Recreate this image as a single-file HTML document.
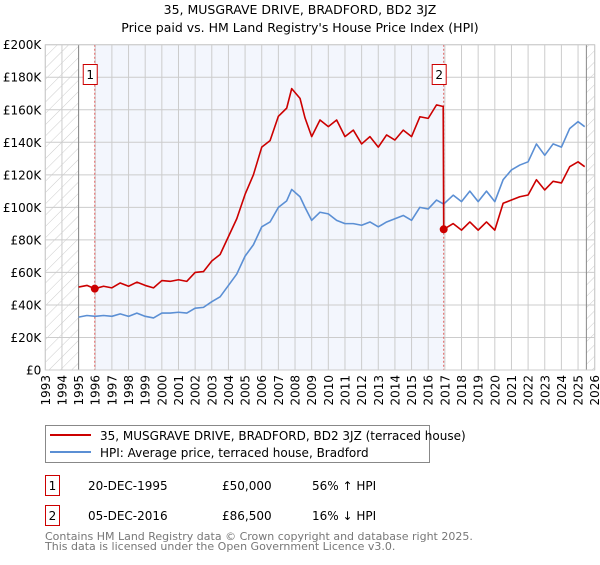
<!DOCTYPE html>
<html><head><meta charset="utf-8"><style>
body{margin:0;background:#fff;}
svg text{font-family:"DejaVu Sans","Liberation Sans",sans-serif;}
</style></head><body>
<svg id="chart" width="600" height="560" viewBox="0 0 600 560" xmlns="http://www.w3.org/2000/svg">
<defs>
<pattern id="hatch" patternUnits="userSpaceOnUse" width="8" height="8" patternTransform="rotate(45)">
<line x1="0" y1="0" x2="0" y2="8" stroke="#ccc" stroke-width="1"/>
</pattern>
</defs>
<text x="300" y="14" text-anchor="middle" font-size="12.5">35, MUSGRAVE DRIVE, BRADFORD, BD2 3JZ</text>
<text x="300" y="32" text-anchor="middle" font-size="12.5">Price paid vs. HM Land Registry's House Price Index (HPI)</text>
<g id="plot"></g>
<g>
<rect x="45.5" y="425.5" width="384" height="37" fill="#fff" stroke="#888"/>
<line x1="50" y1="435" x2="91" y2="435" stroke="#cc0000" stroke-width="2"/>
<text x="100" y="440" font-size="12">35, MUSGRAVE DRIVE, BRADFORD, BD2 3JZ (terraced house)</text>
<line x1="50" y1="452" x2="91" y2="452" stroke="#5b8fd4" stroke-width="2"/>
<text x="100" y="457" font-size="12">HPI: Average price, terraced house, Bradford</text>
</g>
<g font-size="12">
<rect x="45.5" y="475.5" width="14" height="20" fill="#fff" stroke="#cc0000"/>
<text x="52.5" y="490" text-anchor="middle">1</text>
<text x="88" y="490">20-DEC-1995</text>
<text x="222" y="490">£50,000</text>
<text x="312" y="490">56% ↑ HPI</text>
<rect x="45.5" y="505.5" width="14" height="20" fill="#fff" stroke="#cc0000"/>
<text x="52.5" y="520" text-anchor="middle">2</text>
<text x="88" y="520">05-DEC-2016</text>
<text x="222" y="520">£86,500</text>
<text x="312" y="520">16% ↓ HPI</text>
</g>
<text x="45" y="540" font-size="11" fill="#777">Contains HM Land Registry data © Crown copyright and database right 2025.</text>
<text x="45" y="550" font-size="11" fill="#777">This data is licensed under the Open Government Licence v3.0.</text>
</svg>
<script>
const hpiYears=[1995,1995.5,1996,1996.5,1997,1997.5,1998,1998.5,1999,1999.5,2000,2000.5,2001,2001.5,2002,2002.5,2003,2003.5,2004,2004.5,2005,2005.5,2006,2006.5,2007,2007.5,2007.8,2008.3,2008.6,2009,2009.5,2010,2010.5,2011,2011.5,2012,2012.5,2013,2013.5,2014,2014.5,2015,2015.5,2016,2016.5,2016.93,2017.5,2018,2018.5,2019,2019.5,2020,2020.5,2021,2021.5,2022,2022.5,2023,2023.5,2024,2024.5,2025,2025.4];
const hpiValues=[32.5,33.5,33,33.5,33,34.5,33,35,33,32,35,35,35.5,35,38,38.5,42,45,52,59,70,77,88,91,100,104,111,106.5,100,92,97,96,92,90,90,89,91,88,91,93,95,92,100,99,104.5,102,107.5,103.5,110,103.5,110,103.5,117,123,126,128,139,132,139,137,148.5,152.7,149.6];
const priceYears=[1995,1995.5,1995.97,1996.5,1997,1997.5,1998,1998.5,1999,1999.5,2000,2000.5,2001,2001.5,2002,2002.5,2003,2003.5,2004,2004.5,2005,2005.5,2006,2006.5,2007,2007.5,2007.8,2008.3,2008.6,2009,2009.5,2010,2010.5,2011,2011.5,2012,2012.5,2013,2013.5,2014,2014.5,2015,2015.5,2016,2016.5,2016.9,2016.93,2017.5,2018,2018.5,2019,2019.5,2020,2020.5,2021,2021.5,2022,2022.5,2023,2023.5,2024,2024.5,2025,2025.4];
const priceValues=[51,52,50,51.5,50.5,53.5,51.5,54,52,50.5,55,54.5,55.5,54.5,60,60.5,67,71,82,93,108,120,137,141,156,161,173,167,155,143.5,153.7,149.6,153.7,143.5,147.5,139,143.5,137,144.5,141.4,147.5,143.5,155.7,154.7,163,162,86.5,90,86,91,86,91,86,102.5,104.5,106.5,107.6,117,110.7,116,115,125,128,125];
const saleYears=[1995.97,2016.93];
const saleValues=[50,86.5];
const saleLabels=["1","2"];
const yTicks=[0,20,40,60,80,100,120,140,160,180,200];
const yTickLabels=["£0","£20K","£40K","£60K","£80K","£100K","£120K","£140K","£160K","£180K","£200K"];
const xTicks=[1993,1994,1995,1996,1997,1998,1999,2000,2001,2002,2003,2004,2005,2006,2007,2008,2009,2010,2011,2012,2013,2014,2015,2016,2017,2018,2019,2020,2021,2022,2023,2024,2025,2026];

const X0=45.3,X1=594.7,Y0=370,Y1=44.7;
const xs=y=>X0+(y-1993)/(2026-1993)*(X1-X0);
const ys=v=>Y0-v/200*(Y0-Y1);
const NS="http://www.w3.org/2000/svg";
const g=document.getElementById('plot');
function mk(tag,attrs,parent){const e=document.createElementNS(NS,tag);for(const k in attrs)e.setAttribute(k,attrs[k]);(parent||g).appendChild(e);return e;}

let bg=mk('rect',{x:xs(saleYears[0]),y:Y1,width:xs(saleYears[1])-xs(saleYears[0]),height:Y0-Y1,fill:'#f3f6fd'});


let h1=mk('rect',{x:X0,y:Y1,width:xs(1995)-X0,height:Y0-Y1,fill:'url(#hatch)'});


let h2=mk('rect',{x:xs(2025.5),y:Y1,width:X1-xs(2025.5),height:Y0-Y1,fill:'url(#hatch)'});



yTicks.forEach((t,i)=>{
  let l=mk('line',{x1:X0,x2:X1,y1:ys(t),y2:ys(t),stroke:'#ccc','stroke-width':1});
  
  
  let tx=mk('text',{x:X0-4,y:ys(t)+4.5,'text-anchor':'end','font-size':12});
  tx.textContent=yTickLabels[i];
  
  
});
xTicks.forEach(t=>{
  let l=mk('line',{x1:xs(t),x2:xs(t),y1:Y1,y2:Y0,stroke:'#ccc','stroke-width':1});
  
  
  let tx=mk('text',{x:0,y:0,'text-anchor':'end','font-size':12,transform:`translate(${xs(t)+4.5},${Y0+5}) rotate(-90)`});
  tx.textContent=t;
  
  
});
let dl1=mk('line',{x1:xs(1995),x2:xs(1995),y1:Y1,y2:Y0,stroke:'#888','stroke-width':1});


let dl2=mk('line',{x1:xs(2025.5),x2:xs(2025.5),y1:Y1,y2:Y0,stroke:'#888','stroke-width':1});



saleYears.forEach((s,i)=>{
  let l=mk('line',{x1:xs(s),x2:xs(s),y1:Y1,y2:Y0,stroke:'#e06060','stroke-width':1,'stroke-dasharray':'2,2'});
  
  
});

let hp=mk('polyline',{points:hpiYears.map((y,i)=>xs(y)+','+ys(hpiValues[i])).join(' '),fill:'none',stroke:'#5b8fd4','stroke-width':1.6,'stroke-linejoin':'round'});


let pp=mk('polyline',{points:priceYears.map((y,i)=>xs(y)+','+ys(priceValues[i])).join(' '),fill:'none',stroke:'#cc0000','stroke-width':1.6,'stroke-linejoin':'round'});



saleYears.forEach((s,i)=>{
  let c=mk('circle',{cx:xs(s),cy:ys(saleValues[i]),r:4,fill:'#cc0000'});
  
  
  let r=mk('rect',{x:xs(s)-11.5,y:64.5,width:14,height:20,fill:'#fff',stroke:'#cc0000'});
  
  
  let t=mk('text',{x:xs(s)-4.5,y:79,'text-anchor':'middle','font-size':12});
  t.textContent=saleLabels[i];
  
  
});
let fr=mk('rect',{x:X0,y:Y1,width:X1-X0,height:Y0-Y1,fill:'none',stroke:'#ccc'});


</script>
</body></html>
